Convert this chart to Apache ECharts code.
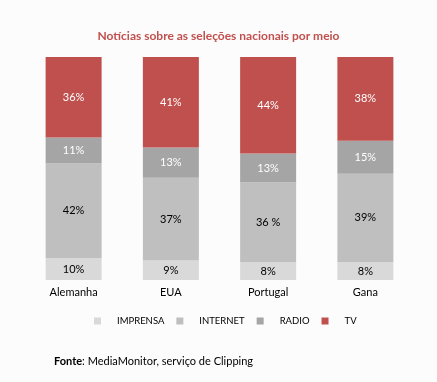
<!DOCTYPE html>
<html><head><meta charset="utf-8">
<script src="https://cdn.jsdelivr.net/npm/echarts@6/dist/echarts.min.js"></script>
<style>html,body{margin:0;padding:0;background:#fcfcfc}#c{width:437px;height:382px}</style>
</head><body><div id="c"></div>
<script>
const categories = ['Alemanha', 'EUA', 'Portugal', 'Gana'];
const seriesNames = ['IMPRENSA', 'INTERNET', 'RADIO', 'TV'];
const imprensa = [9.9, 8.7, 8.1, 8.1];
const internet = [42.3, 37.2, 35.6, 39.6];
const radio = [11.7, 13.5, 13.0, 14.8];
const tv = [36.1, 40.6, 43.3, 37.5];
const imprensaLabels = ['10%', '9%', '8%', '8%'];
const internetLabels = ['42%', '37%', '36 %', '39%'];
const radioLabels = ['11%', '13%', '13%', '15%'];
const tvLabels = ['36%', '41%', '44%', '38%'];
const colors = ['#d9d9d9', '#bfbfbf', '#a5a5a5', '#c0504d'];
const labelColors = ['#000', '#000', '#fff', '#fff'];
const values = [imprensa, internet, radio, tv];
const labels = [imprensaLabels, internetLabels, radioLabels, tvLabels];
const font = 'Lato, "Open Sans", sans-serif';

const chart = echarts.init(document.getElementById('c'));
chart.setOption({
  backgroundColor: '#fcfcfc',
  animation: false,
  title: {
    text: 'Notícias sobre as seleções nacionais por meio',
    left: 'center', top: 25,
    textStyle: {color: '#c0504d', fontSize: 12, fontWeight: 'bold', fontFamily: font}
  },
  legend: {
    data: seriesNames, left: 89, top: 311,
    itemWidth: 7, itemHeight: 7, itemGap: 12, icon: 'rect',
    textStyle: {fontSize: 9.5, color: '#000', fontFamily: font, padding: [0, 0, 0, 11]}
  },
  grid: {left: 25, right: 23, top: 57, bottom: 102},
  xAxis: {
    type: 'category', data: categories,
    axisLine: {show: false}, axisTick: {show: false},
    axisLabel: {color: '#000', fontSize: 11, fontFamily: font, margin: 7}
  },
  yAxis: {type: 'value', min: 0, max: 100, show: false, splitLine: {show: false}},
  series: seriesNames.map((n, i) => ({
    name: n, type: 'bar', stack: 'a', barWidth: 56,
    itemStyle: {color: colors[i]},
    data: values[i],
    label: {
      show: true, position: 'inside', color: labelColors[i], fontSize: 11, fontFamily: font,
      formatter: p => labels[i][p.dataIndex]
    }
  })),
  graphic: [{
    type: 'text', left: 54, top: 356,
    style: {
      text: '{b|Fonte}: MediaMonitor, serviço de Clipping',
      rich: {b: {fontWeight: 'bold', fontSize: 11, fontFamily: font, fill: '#000'}},
      fontSize: 11, fontFamily: font, fill: '#000'
    }
  }]
});
</script></body></html>
